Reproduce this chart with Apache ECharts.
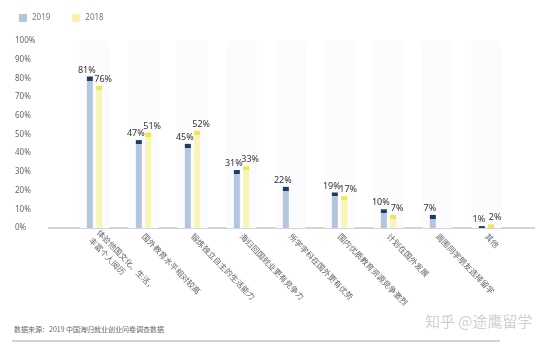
<!DOCTYPE html>
<html>
<head>
<meta charset="utf-8">
<script src="https://cdn.jsdelivr.net/npm/echarts@6/dist/echarts.min.js"></script>
<style>
  html, body { margin: 0; padding: 0; background: #fff; }
  #main { width: 560px; height: 351px; }
</style>
</head>
<body>
<div id="main"></div>
<script>
// 数据
var categories = [
  '体验他国文化、生活，\n丰富个人阅历',
  '国外教育水平相对较高',
  '锻炼独立自主的生活能力',
  '海归回国就业更有竞争力',
  '所学学科在国外更有优势',
  '国内优质教育资源竞争激烈',
  '计划在国外发展',
  '周围同学朋友选择留学',
  '其他'
];
var data2019 = [81, 47, 45, 31, 22, 19, 10, 7, 1];
var data2018 = [76, 51, 52, 33, null, 17, 7, null, 2];

var pxPerPct = 1.87; // 0%~100% 约 187px
var capPx = 4;

// 柱子顶部深色“帽子”
function capColor(v, cap, body) {
  var f = Math.min(1, capPx / (v * pxPerPct));
  return new echarts.graphic.LinearGradient(0, 0, 0, 1, [
    { offset: 0, color: cap },
    { offset: f, color: cap },
    { offset: f, color: body },
    { offset: 1, color: body }
  ]);
}

function build(arr, cap, body) {
  return arr.map(function (v) {
    if (v == null) return '-';
    return { value: v, itemStyle: { color: capColor(v, cap, body) } };
  });
}

var chart = echarts.init(document.getElementById('main'));

var option = {
  backgroundColor: '#fff',
  animation: false,
  legend: {
    data: ['2019', '2018'],
    left: 14,
    top: 9,
    icon: 'rect',
    itemWidth: 8,
    itemHeight: 8,
    itemGap: 22,
    textStyle: { color: '#777', fontSize: 8, fontFamily: 'Noto Sans' }
  },
  grid: { left: 70, right: 49, top: 41, bottom: 123 },
  xAxis: [{
    type: 'category',
    data: categories,
    axisLine: { show: false },
    axisTick: { show: false },
    axisLabel: {
      rotate: -46,
      interval: 0,
      margin: 7,
      fontSize: 8,
      lineHeight: 11,
      color: '#666',
      fontFamily: 'Noto Sans CJK SC'
    }
  }, {
    type: 'category',
    data: categories,
    show: false
  }],
  yAxis: {
    type: 'value',
    min: 0,
    max: 100,
    interval: 10,
    splitLine: { show: false },
    axisLine: { show: false },
    axisTick: { show: false },
    axisLabel: {
      formatter: '{value}%',
      align: 'left',
      margin: 55,
      fontSize: 8,
      color: '#666',
      fontFamily: 'Noto Sans'
    }
  },
  series: [{
    // 每类的淡色背景条
    name: 'bg',
    type: 'bar',
    xAxisIndex: 1,
    barWidth: 30,
    silent: true,
    itemStyle: { color: '#fcfbfd' },
    data: categories.map(function () { return 100; }),
    z: 0
  }, {
    name: '2019',
    type: 'bar',
    barWidth: 6,
    barGap: '55%',
    itemStyle: { color: '#b3c6de' },
    label: {
      show: true,
      position: 'top',
      distance: 2,
      offset: [-3, 0],
      formatter: '{c}%',
      fontSize: 9,
      color: '#333',
      fontFamily: 'Noto Sans'
    },
    data: build(data2019, '#1f3a68', '#b3c6de')
  }, {
    name: '2018',
    type: 'bar',
    barWidth: 6,
    itemStyle: { color: '#f8f3a8' },
    label: {
      show: true,
      position: 'top',
      distance: 2,
      offset: [4, 0],
      formatter: '{c}%',
      fontSize: 9,
      color: '#333',
      fontFamily: 'Noto Sans'
    },
    data: build(data2018, '#f0e64e', '#f9f5b4')
  }],
  graphic: [{
    type: 'line',
    shape: { x1: 48, y1: 228, x2: 535, y2: 228 },
    style: { stroke: '#aaa', lineWidth: 1 }
  }, {
    type: 'text',
    left: 14,
    top: 326,
    style: {
      text: '数据来源：2019 中国海归就业创业问卷调查数据',
      fill: '#666',
      font: '7px "Noto Sans CJK SC"'
    }
  }, {
    type: 'line',
    shape: { x1: 12, y1: 341, x2: 500, y2: 341 },
    style: { stroke: '#aaa', lineWidth: 1 }
  }, {
    type: 'text',
    left: 425,
    top: 314,
    style: {
      text: '知乎 @途鹰留学',
      fill: '#cfcfcf',
      font: '15px "Noto Sans CJK SC"'
    }
  }]
};

chart.setOption(option);
</script>
</body>
</html>
